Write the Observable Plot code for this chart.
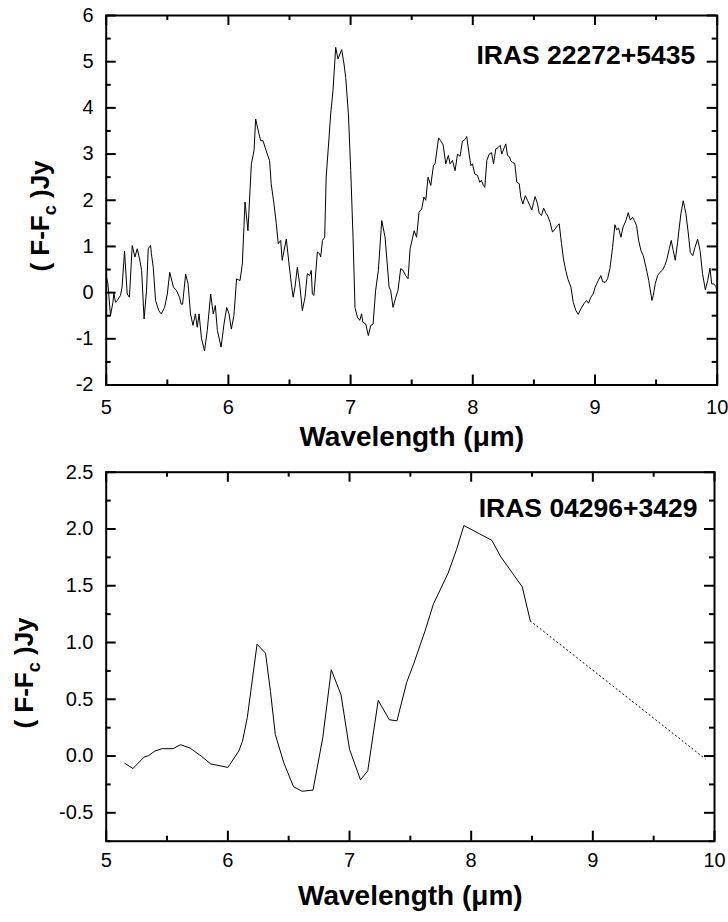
<!DOCTYPE html>
<html><head><meta charset="utf-8">
<script src="https://cdn.jsdelivr.net/npm/d3@7"></script>
<script src="https://cdn.jsdelivr.net/npm/@observablehq/plot@0.6"></script>
<style>
body{margin:0;background:#fff;}
#chart svg{display:block;}
</style></head><body><div id="chart"></div>
<script>
const topWavelength = [5.003,5.014,5.035,5.055,5.063,5.076,5.09,5.117,5.13,5.15,5.172,5.19,5.213,5.235,5.254,5.273,5.29,5.31,5.33,5.344,5.363,5.37,5.385,5.404,5.43,5.45,5.478,5.50,5.52,5.55,5.576,5.60,5.614,5.625,5.65,5.67,5.69,5.71,5.73,5.745,5.76,5.78,5.805,5.827,5.855,5.876,5.893,5.91,5.94,5.964,5.986,6.005,6.024,6.045,6.067,6.095,6.114,6.136,6.16,6.188,6.21,
6.223,6.25,6.264,6.283,6.30,6.318,6.337,6.35,6.373,6.392,6.408,6.428,6.44,6.474,6.496,6.515,6.53,6.545,6.564,6.583,6.605,6.627,6.646,6.665,6.678,6.687,6.70,6.728,6.747,6.755,6.77,6.788,6.80,6.824,6.837,6.856,6.878,6.897,6.927,6.946,6.96,6.982,7.001,7.02,7.036,7.055,7.075,7.09,7.10,7.124,7.145,7.165,7.184,7.205,7.227,7.255,7.282,7.30,7.315,7.328,7.347,7.37,7.388,7.41,7.43,7.45,7.47,7.487,
7.52,7.54,7.56,7.582,7.60,7.615,7.634,7.656,7.678,7.692,7.72,7.737,7.757,7.779,7.80,7.814,7.834,7.855,7.875,7.896,7.915,7.934,7.95,7.97,7.984,7.997,8.016,8.038,8.057,8.07,8.087,8.098,8.115,8.134,8.153,8.17,8.188,8.207,8.224,8.237,8.25,8.27,8.284,8.30,8.31,8.325,8.344,8.36,8.38,8.393,8.41,8.43,8.447,8.467,8.483,8.497,8.51,8.53,8.543,8.562,8.58,8.598,8.61,8.633,8.652,8.674,8.693,8.707,8.726,8.742,8.762,8.78,
8.803,8.822,8.844,8.863,8.885,8.912,8.931,8.947,8.966,8.985,9.002,9.026,9.048,9.062,9.084,9.103,9.122,9.144,9.163,9.177,9.193,9.212,9.23,9.253,9.272,9.289,9.308,9.322,9.34,9.357,9.376,9.395,9.417,9.44,9.466,9.477,9.493,9.512,9.532,9.553,9.572,9.589,9.608,9.624,9.64,9.657,9.676,9.69,9.703,9.722,9.744,9.764,9.78,9.80,9.818,9.84,9.86,9.88,9.903,9.922,9.941,9.955,9.971,9.99,10.0];
const topFlux = [0.33,0.19,-0.50,-0.21,-0.01,-0.21,-0.17,-0.06,0.12,0.90,-0.03,-0.10,1.02,0.77,0.95,0.73,0.48,-0.57,0.04,0.95,1.02,0.84,0.55,-0.17,-0.39,-0.46,-0.32,-0.03,0.44,0.12,0.04,-0.10,-0.25,-0.25,0.40,0.19,-0.46,-0.71,-0.46,-0.75,-0.46,-1.00,-1.26,-0.82,-0.03,-0.46,-0.28,-0.82,-1.18,-0.68,-0.32,-0.46,-0.79,-0.50,0.30,0.26,0.62,1.96,1.34,2.79,3.08,
3.76,3.44,3.29,3.29,3.15,3.00,2.86,2.36,1.92,1.49,1.06,1.13,0.70,1.16,0.62,0.19,-0.10,0.12,0.55,0.19,-0.39,-0.10,0.41,0.37,0.48,-0.03,-0.06,0.88,0.84,0.77,1.13,1.20,2.50,3.37,3.87,4.38,5.31,5.06,5.26,4.95,4.66,3.87,2.64,1.20,-0.32,-0.53,-0.60,-0.46,-0.64,-0.68,-0.93,-0.71,-0.68,0.05,0.48,1.56,1.20,0.62,0.12,0.05,-0.32,-0.10,0.05,0.52,0.48,0.37,0.30,0.95,
1.34,1.20,1.74,1.81,2.07,2.00,2.50,2.32,2.75,2.80,3.35,3.29,3.20,2.79,2.97,2.79,2.86,2.64,3.00,2.95,3.28,3.31,3.38,3.00,2.75,2.79,2.57,2.54,2.39,2.43,2.32,2.28,2.86,3.00,3.03,2.79,3.11,3.14,3.19,3.00,3.09,3.22,2.97,2.94,2.86,2.82,2.79,2.39,2.36,2.07,1.92,2.10,2.00,1.88,1.79,1.95,2.08,1.92,1.72,1.67,1.83,1.72,1.68,1.52,1.31,1.38,1.45,1.49,1.06,0.73,0.46,0.28,
0.12,-0.21,-0.39,-0.47,-0.35,-0.23,-0.17,-0.23,-0.10,-0.03,0.12,0.26,0.37,0.24,0.22,0.30,0.52,0.98,1.47,1.36,1.40,1.20,1.42,1.56,1.73,1.57,1.63,1.56,1.45,1.13,0.91,0.80,0.55,0.26,-0.17,-0.06,0.19,0.37,0.44,0.49,0.59,0.73,0.95,1.13,0.91,0.70,1.09,1.42,1.71,1.99,1.71,1.27,0.87,0.80,0.98,1.16,0.91,0.41,0.06,0.26,0.53,0.19,0.19,0.13,0.01];

const botWavelength = [5.154,5.22,5.31,5.35,5.40,5.46,5.55,5.61,5.69,5.78,5.86,5.91,6.0,6.09,6.12,6.16,6.24,6.31,6.35,6.39,6.46,6.54,6.61,6.70,6.78,6.85,6.93,7.0,7.09,7.15,7.236,7.327,7.39,7.47,7.53,7.62,7.69,7.81,7.88,7.94,8.17,8.24,8.42,8.486];
const botFlux = [-0.065,-0.11,-0.01,0.005,0.044,0.065,0.065,0.10,0.07,0.0,-0.07,-0.08,-0.10,0.044,0.13,0.34,0.985,0.905,0.57,0.19,-0.06,-0.27,-0.31,-0.30,0.16,0.76,0.54,0.06,-0.21,-0.13,0.49,0.32,0.31,0.65,0.82,1.10,1.34,1.61,1.82,2.03,1.90,1.76,1.49,1.19];
const botExtrapWavelength = [8.486, 9.923];
const botExtrapFlux = [1.19, -0.024];

const xMajorTicks = [5,6,7,8,9,10];
const xMinorTicks = [5.5,6.5,7.5,8.5,9.5];
const topYMajorTicks = [-2,-1,0,1,2,3,4,5,6];
const topYMinorTicks = [-1.5,-0.5,0.5,1.5,2.5,3.5,4.5,5.5];
const botYMajorTicks = [-0.5,0.0,0.5,1.0,1.5,2.0,2.5];
const botYMinorTicks = [-0.75,-0.25,0.25,0.75,1.25,1.75,2.25];

const topLabel = "IRAS 22272+5435";
const botLabel = "IRAS 04296+3429";
const xTitle = "Wavelength (\u03bcm)";

const FONT = "'Liberation Sans', Arial, Helvetica, sans-serif";

function zip(xs, ys) { return xs.map((x, i) => ({x, y: ys[i]})); }

function panel(cfg) {
  const W = 728, ML = 105.7;
  const iw = W - ML - cfg.mr;
  const ih = cfg.height - cfg.mt - cfg.mb;
  const MAJ = 10, MIN = 5;
  const tk = {stroke: "black", strokeWidth: 2};
  const marks = [
    // inward ticks on all four sides
    Plot.tickX(xMajorTicks, {...tk, x: d => d, insetTop: ih - MAJ}),
    Plot.tickX(xMinorTicks, {...tk, x: d => d, insetTop: ih - MIN}),
    Plot.tickX(xMajorTicks, {...tk, x: d => d, insetBottom: ih - MAJ}),
    Plot.tickX(xMinorTicks, {...tk, x: d => d, insetBottom: ih - MIN}),
    Plot.tickY(cfg.yMajor, {...tk, y: d => d, insetRight: iw - MAJ}),
    Plot.tickY(cfg.yMinor, {...tk, y: d => d, insetRight: iw - MIN}),
    Plot.tickY(cfg.yMajor, {...tk, y: d => d, insetLeft: iw - MAJ}),
    Plot.tickY(cfg.yMinor, {...tk, y: d => d, insetLeft: iw - MIN}),
    // tick labels
    Plot.axisX(xMajorTicks, {anchor: "bottom", tickSize: 0, tickPadding: cfg.xPad, fontSize: 20, tickFormat: d => String(d), label: null}),
    Plot.axisY(cfg.yMajor, {anchor: "left", tickSize: 0, tickPadding: 12.7, fontSize: 20, tickFormat: cfg.yFmt, label: null}),
    Plot.line(cfg.data, {x: "x", y: "y", stroke: "black", strokeWidth: 1}),
  ];
  if (cfg.extrap) marks.push(Plot.line(cfg.extrap, {x: "x", y: "y", stroke: "black", strokeWidth: 1, strokeDasharray: "1.2,3"}));
  marks.push(
    Plot.frame({stroke: "black", strokeWidth: 2}),
    Plot.text([cfg.label], {text: d => d, frameAnchor: "top-right", lineAnchor: "top", dx: cfg.labelDx, dy: cfg.labelDy, textAnchor: "end", fontSize: 26.5, fontWeight: "bold", fill: "black"}),
    Plot.text([xTitle], {text: d => d, frameAnchor: "bottom", lineAnchor: "bottom", dy: cfg.titleDy, fontSize: 28, fontWeight: "bold", fill: "black"})
  );
  const svg = Plot.plot({
    width: W, height: cfg.height,
    marginTop: cfg.mt, marginBottom: cfg.mb, marginLeft: ML, marginRight: cfg.mr,
    style: {fontFamily: FONT, color: "black", background: "white"},
    x: {domain: [5, 10]},
    y: {domain: cfg.yDomain},
    marks
  });
  const t = d3.select(svg).append("text")
    .attr("transform", `translate(${cfg.ylx},${cfg.yly}) rotate(-90)`)
    .attr("text-anchor", "middle")
    .attr("font-family", FONT).attr("font-weight", "bold").attr("font-size", 26).attr("fill", "black");
  t.append("tspan").text("( F-F");
  t.append("tspan").attr("font-size", 18).attr("dy", 7).text("c");
  t.append("tspan").attr("dy", -7).text(" )Jy");
  return svg;
}

const chart = document.getElementById("chart");
chart.appendChild(panel({
  data: zip(topWavelength, topFlux), yDomain: [-2, 6], yMajor: topYMajorTicks, yMinor: topYMinorTicks,
  yFmt: d => String(d), height: 460, mt: 15, mb: 75.5, mr: 11.3, xPad: 15,
  label: topLabel, labelDx: -22, labelDy: 30, titleDy: 60.5, ylx: 49, yly: 216
}));
chart.appendChild(panel({
  data: zip(botWavelength, botFlux), extrap: zip(botExtrapWavelength, botExtrapFlux),
  yDomain: [-0.75, 2.5], yMajor: botYMajorTicks, yMinor: botYMinorTicks,
  yFmt: d => d.toFixed(1), height: 462, mt: 11.7, mb: 81.3, mr: 14, xPad: 12,
  label: botLabel, labelDx: -17, labelDy: 26, titleDy: 64, ylx: 33, yly: 213
}));
</script></body></html>
